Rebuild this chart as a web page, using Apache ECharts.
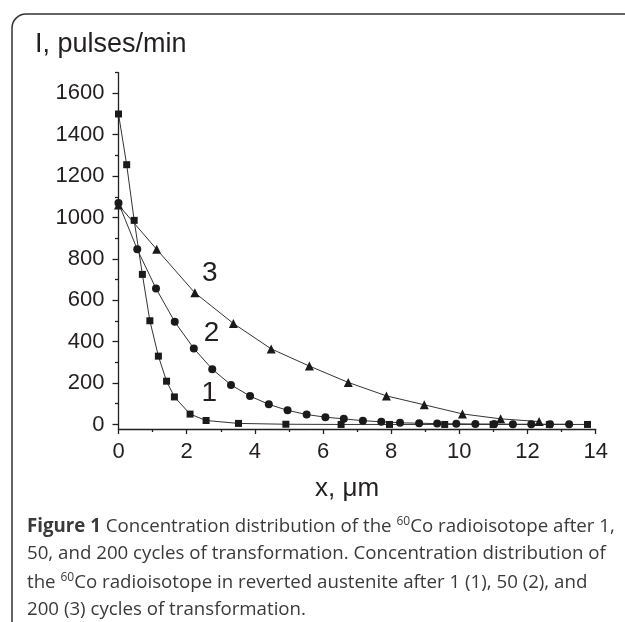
<!DOCTYPE html>
<html>
<head>
<meta charset="utf-8">
<script src="https://cdn.jsdelivr.net/npm/echarts@6/dist/echarts.min.js"></script>
<style>
  html, body { margin: 0; padding: 0; background: #fff; }
  #chart { width: 625px; height: 622px; }
</style>
</head>
<body>
<div id="chart"></div>
<script>
// curve 1: 1 cycle (squares)
const x1 = [0, 0.24, 0.46, 0.70, 0.92, 1.17, 1.41, 1.64, 2.10, 2.57, 3.52, 4.91, 6.53, 7.95, 9.57, 10.99, 12.64, 13.76];
const y1 = [1500, 1255, 986, 725, 501, 330, 209, 133, 50, 19, 5, 1, 0, 0, 0, 0, 0, 0];
// curve 2: 50 cycles (circles)
const x2 = [0, 0.55, 1.10, 1.65, 2.21, 2.75, 3.30, 3.86, 4.41, 4.96, 5.52, 6.07, 6.61, 7.17, 7.71, 8.26, 8.82, 9.35, 9.91, 10.47, 11.02, 11.57, 12.11, 12.66, 13.22];
const y2 = [1070, 846, 657, 496, 367, 267, 191, 137, 97, 68, 48, 35, 27, 18, 13, 8, 6, 4, 3, 2, 2, 1, 1, 1, 1];
// curve 3: 200 cycles (triangles)
const x3 = [0, 1.12, 2.24, 3.37, 4.48, 5.60, 6.74, 7.86, 8.97, 10.09, 11.21, 12.34];
const y3 = [1060, 846, 636, 488, 365, 282, 203, 138, 95, 51, 27, 14];

// curve numbers and where they sit
const curveLabels = ['1', '2', '3'];
const curveLabelPos = [[2.66, 150], [2.73, 441], [2.68, 730]];

const yMajor = [0, 200, 400, 600, 800, 1000, 1200, 1400, 1600];
const yMinor = [100, 300, 500, 700, 900, 1100, 1300, 1500, 1700];

const ink = '#231f20';
const font = 'Liberation Sans';

const zip = (xs, ys) => xs.map((x, i) => [x, ys[i]]);

const chart = echarts.init(document.getElementById('chart'));

const lineSeries = (name, xs, ys, symbol, size, idx) => ({
  name: name,
  type: 'line',
  data: zip(xs, ys),
  symbol: symbol,
  symbolSize: size,
  itemStyle: { color: '#1a1a1a' },
  lineStyle: { color: '#333', width: 1 },
  z: 3,
  markPoint: {
    symbol: 'circle',
    symbolSize: 0,
    silent: true,
    label: {
      show: true,
      position: 'inside',
      color: ink,
      fontFamily: font,
      fontSize: 28,
      formatter: curveLabels[idx]
    },
    data: [{ coord: curveLabelPos[idx] }]
  }
});

const captionStyle = { fontFamily: 'Open Sans', fontSize: 18.7, fill: '#3a3a3a' };
const rich = {
  b: { fontFamily: 'Open Sans', fontSize: 18.7, fontWeight: 'bold', color: '#231f20' },
  s: { fontFamily: 'Open Sans', fontSize: 12, color: '#3a3a3a', padding: [0, 0, 10, 0] }
};
const captionLines = [
  '{b|Figure 1} Concentration distribution of the {s|60}Co radioisotope after 1,',
  '50, and 200 cycles of transformation. Concentration distribution of',
  'the {s|60}Co radioisotope in reverted austenite after 1 (1), 50 (2), and',
  '200 (3) cycles of transformation.'
];

const option = {
  backgroundColor: '#fff',
  animation: false,
  title: {
    text: 'I, pulses/min',
    left: 35,
    top: 31,
    padding: 0,
    textStyle: { fontFamily: font, fontSize: 27, fontWeight: 'normal', color: ink }
  },
  grid: { left: 118.5, right: 29.3, top: 72.6, bottom: 193 },
  xAxis: {
    type: 'value',
    min: 0,
    max: 14,
    interval: 2,
    name: 'x, \u03bcm',
    nameLocation: 'middle',
    nameGap: 47,
    nameTextStyle: { fontFamily: font, fontSize: 26, color: ink, padding: [0, 20, 0, 0] },
    axisLine: { onZero: false, lineStyle: { color: ink, width: 1.3 } },
    axisTick: { length: 5, lineStyle: { color: ink, width: 1.3 } },
    minorTick: { show: true, splitNumber: 2, length: 3, lineStyle: { color: ink, width: 1.3 } },
    axisLabel: { fontFamily: font, fontSize: 22, color: ink, margin: 12 },
    splitLine: { show: false }
  },
  yAxis: [
    {
      type: 'value',
      min: -22,
      max: 1700,
      axisLine: { show: true, onZero: false, lineStyle: { color: ink, width: 1.3 } },
      axisTick: { show: true, length: 6, customValues: yMajor, lineStyle: { color: ink, width: 1.3 } },
      axisLabel: {
        customValues: yMajor,
        formatter: v => String(v),
        fontFamily: font,
        fontSize: 22,
        color: ink,
        margin: 14
      },
      splitLine: { show: false }
    },
    {
      type: 'value',
      min: -22,
      max: 1700,
      position: 'left',
      axisLine: { show: false },
      axisTick: { show: true, length: 3.5, customValues: yMinor, lineStyle: { color: ink, width: 1.3 } },
      axisLabel: { show: false, customValues: yMinor },
      splitLine: { show: false }
    }
  ],
  series: [
    lineSeries('1 cycle', x1, y1, 'rect', 7, 0),
    lineSeries('50 cycles', x2, y2, 'circle', 8, 1),
    lineSeries('200 cycles', x3, y3, 'triangle', 9, 2)
  ],
  graphic: [
    {
      type: 'rect',
      shape: { x: 12, y: 14, width: 700, height: 700, r: 14 },
      style: { fill: 'none', stroke: '#333', lineWidth: 1.5 },
      silent: true
    }
  ].concat(captionLines.map((t, i) => ({
    type: 'text',
    left: 27,
    top: 516 + i * 28,
    style: Object.assign({ text: t, rich: rich }, captionStyle)
  })))
};

chart.setOption(option);
</script>
</body>
</html>
